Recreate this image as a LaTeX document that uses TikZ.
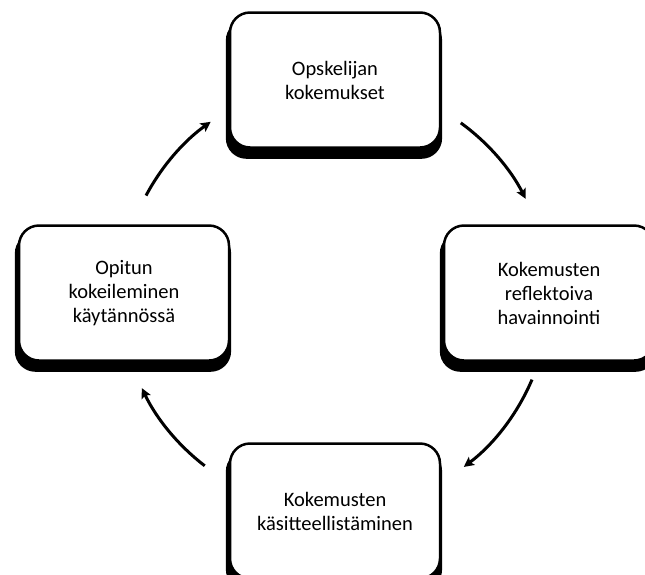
\documentclass[tikz,border=0pt]{standalone}
\usepackage{fontspec}
\setmainfont{Carlito}
\usetikzlibrary{arrows.meta,shadows}
\begin{document}
\begin{tikzpicture}[x=1pt,y=1pt,
  stagebox/.style={draw=black, line width=2.5pt, fill=white, rounded corners=20pt,
    minimum width=210pt, minimum height=135pt, align=center,
    font=\fontsize{20.5}{24}\selectfont,
    general shadow={shadow scale=1.03, shadow xshift=-1pt, shadow yshift=-9pt, fill=black}},
  cyclearrow/.style={line width=3pt, -{Stealth[length=10pt,width=10pt,inset=2pt]}}]
\clip (0,0) rectangle (645,-574);
\fill[white] (0,0) rectangle (645,-574);
\coordinate (c) at (335,-296);
\node[stagebox] (top) at (335,-80) {Opskelijan\\kokemukset};
\node[stagebox] (right) at (549,-293) {Kokemusten\\reflektoiva\\havainnointi};
\node[stagebox] (bottom) at (335,-511) {Kokemusten\\käsitteellistäminen};
\node[stagebox] (left) at (124,-293) {Opitun\\kokeileminen\\käytännössä};
\coordinate (a1) at ([shift={(54:214)}]c);
\coordinate (a2) at ([shift={(-23:214)}]c);
\coordinate (a3) at ([shift={(232.5:214)}]c);
\coordinate (a4) at ([shift={(152:214)}]c);
\draw[cyclearrow] (a1) arc[start angle=54, end angle=27, radius=214];
\draw[cyclearrow] (a2) arc[start angle=-23, end angle=-53, radius=214];
\draw[cyclearrow] (a3) arc[start angle=232.5, end angle=205.5, radius=214];
\draw[cyclearrow] (a4) arc[start angle=152, end angle=125.5, radius=214];
\end{tikzpicture}
\end{document}
